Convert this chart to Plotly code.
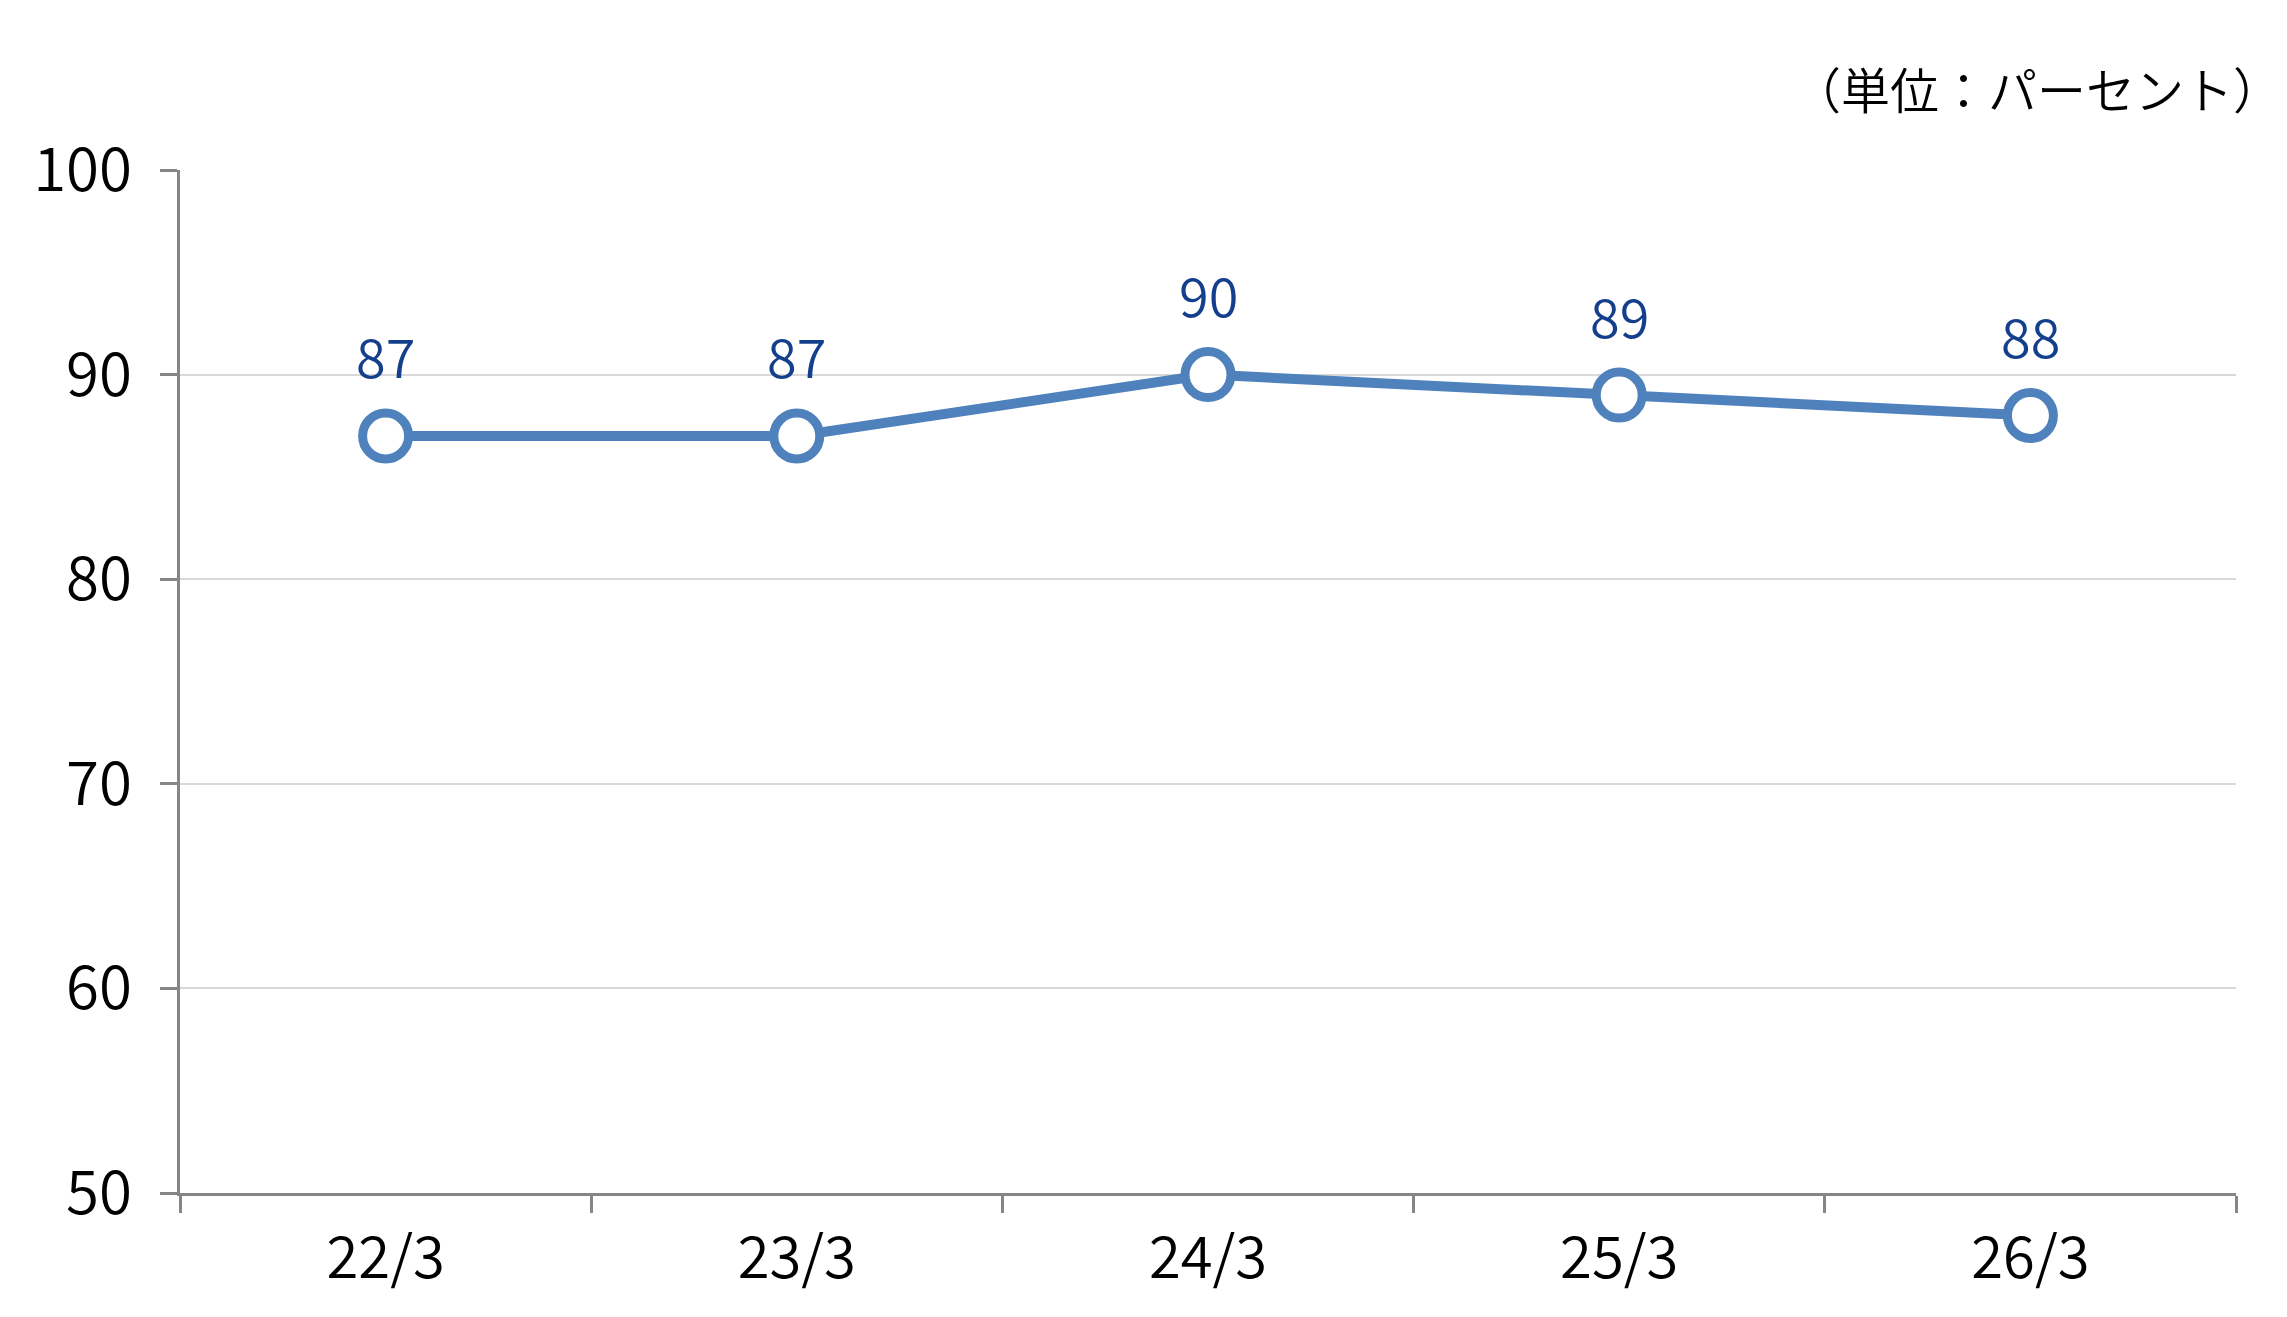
import plotly.graph_objects as go

categories = ["22/3", "23/3", "24/3", "25/3", "26/3"]
values = [87, 87, 90, 89, 88]
y_ticks = [50, 60, 70, 80, 90, 100]
unit_label = "（単位：パーセント）"

FONT = "Noto Sans CJK JP"
AXIS_GRAY = "#868686"
GRID_GRAY = "#d9d9d9"
LINE_BLUE = "#4f81bd"
LABEL_BLUE = "#143f8c"
W = 350

fig = go.Figure()
fig.add_trace(go.Scatter(
    x=categories, y=values,
    mode="lines+markers",
    line=dict(color=LINE_BLUE, width=10),
    marker=dict(size=46, color="white", line=dict(color=LINE_BLUE, width=9)),
    cliponaxis=False,
    hoverinfo="skip",
))

for c, v in zip(categories, values):
    fig.add_annotation(
        x=c, y=v, text=str(v), showarrow=False,
        xanchor="center", yanchor="middle", yshift=81,
        font=dict(family=FONT, size=54, color=LABEL_BLUE, weight=W),
    )

fig.update_layout(
    width=2287, height=1317,
    margin=dict(l=180, r=51, t=170, b=124),
    paper_bgcolor="white", plot_bgcolor="white",
    showlegend=False,
    font=dict(family=FONT, color="black"),
)

fig.update_xaxes(
    type="category", range=[-0.5, 4.5],
    tickson="boundaries",
    ticks="outside", ticklen=17, tickwidth=3, tickcolor=AXIS_GRAY,
    showline=True, linecolor=AXIS_GRAY, linewidth=3,
    showgrid=False, zeroline=False,
    tickfont=dict(family=FONT, size=58, color="black", weight=W),
    ticklabelstandoff=12,
)

fig.update_yaxes(
    range=[50, 100], tickvals=y_ticks,
    ticks="outside", ticklen=17, tickwidth=3, tickcolor=AXIS_GRAY,
    showline=True, linecolor=AXIS_GRAY, linewidth=3,
    showgrid=True, gridcolor=GRID_GRAY, gridwidth=2,
    zeroline=False,
    tickfont=dict(family=FONT, size=60, color="black", weight=W),
    ticklabelstandoff=16,
)

fig.add_annotation(
    text=unit_label, xref="paper", yref="paper",
    x=1.0, y=1.0, xanchor="right", yanchor="bottom",
    xshift=48, yshift=45,
    showarrow=False,
    font=dict(family=FONT, size=49, color="black", weight=W),
)

fig.write_html("out.html")
